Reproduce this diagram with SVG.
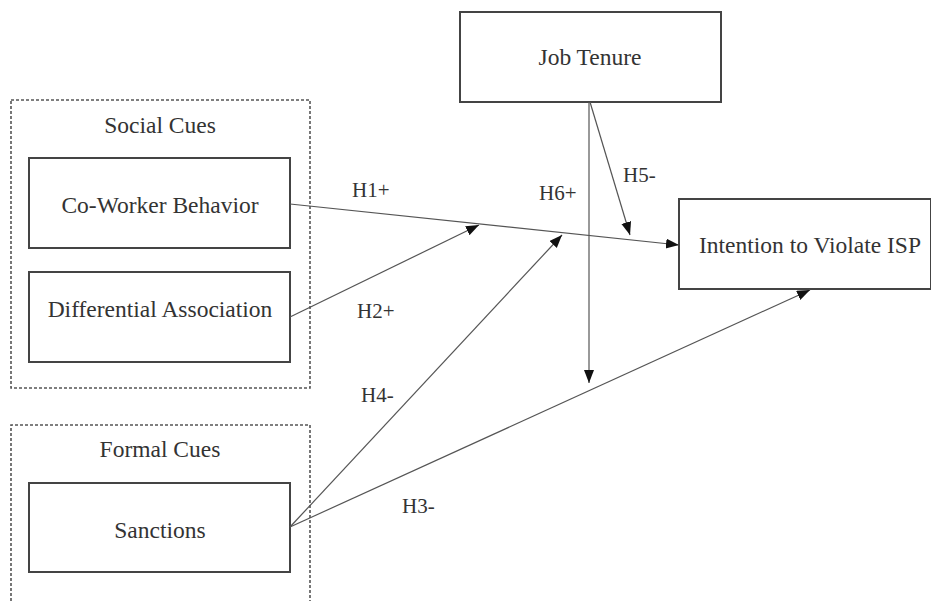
<svg xmlns="http://www.w3.org/2000/svg" width="931" height="601" viewBox="0 0 931 601">
<style>
.box{fill:#fff;stroke:#444;stroke-width:2}
.grp{fill:none;stroke:#555;stroke-width:1.6;stroke-dasharray:3,2}
.t{font-family:"Liberation Serif","Times New Roman",serif;font-size:23.5px;fill:#333;text-anchor:middle}
.lab{font-family:"Liberation Serif","Times New Roman",serif;font-size:21px;fill:#333}
.c{fill:none;stroke:#555;stroke-width:1.2;marker-end:url(#ah)}
</style>
<defs>
<marker id="ah" markerUnits="userSpaceOnUse" markerWidth="14" markerHeight="12" refX="13" refY="5" orient="auto">
<path d="M0,0 L13,5 L0,10 z" fill="#111"/>
</marker>
</defs>
<g id="social-cues">
<rect class="grp" x="11" y="100" width="299" height="288"/>
<text class="t" x="160" y="133">Social Cues</text>
</g>
<g id="formal-cues">
<path class="grp" d="M11,601 V425 H310 V601"/>
<text class="t" x="160" y="457">Formal Cues</text>
</g>
<g id="coworker">
<rect class="box" x="29" y="158" width="261" height="90"/>
<text class="t" x="160" y="213">Co-Worker Behavior</text>
</g>
<g id="differential">
<rect class="box" x="29" y="272" width="261" height="90"/>
<text class="t" x="160" y="317">Differential Association</text>
</g>
<g id="sanctions">
<rect class="box" x="29" y="483" width="261" height="89"/>
<text class="t" x="160" y="538">Sanctions</text>
</g>
<g id="job-tenure">
<rect class="box" x="460" y="12" width="261" height="90"/>
<text class="t" x="590" y="65">Job Tenure</text>
</g>
<g id="intention">
<rect class="box" x="679" y="199" width="252" height="90"/>
<text class="t" x="810" y="253">Intention to Violate ISP</text>
</g>
<g id="connectors">
<line class="c" x1="290" y1="204" x2="679" y2="245"/>
<line class="c" x1="290" y1="317" x2="479" y2="225"/>
<line class="c" x1="290" y1="527" x2="562" y2="235"/>
<line class="c" x1="290" y1="527" x2="810" y2="290"/>
<line class="c" x1="590" y1="102" x2="630" y2="235"/>
<line class="c" x1="589" y1="102" x2="589" y2="383"/>
<text class="lab" x="352" y="197">H1+</text>
<text class="lab" x="357" y="318">H2+</text>
<text class="lab" x="402" y="513">H3-</text>
<text class="lab" x="361" y="402">H4-</text>
<text class="lab" x="623" y="182">H5-</text>
<text class="lab" x="539" y="200">H6+</text>
</g>
</svg>
